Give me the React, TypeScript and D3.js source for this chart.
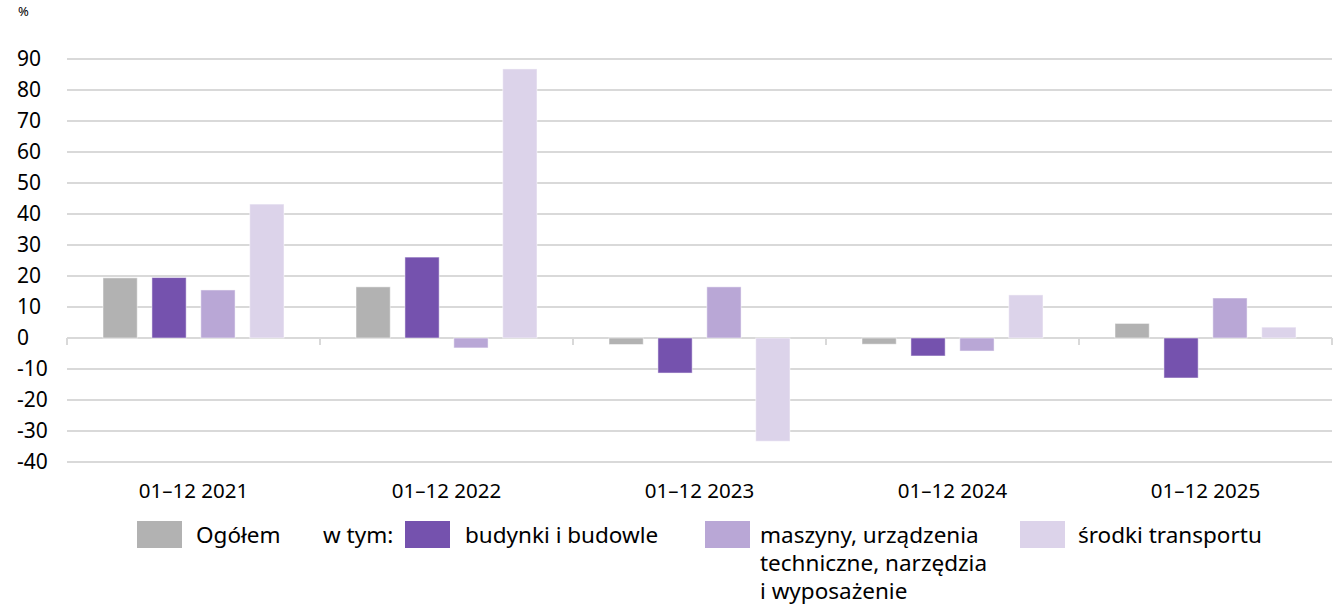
import React from 'react';
import * as d3 from 'd3';

const categories = ['01–12 2021', '01–12 2022', '01–12 2023', '01–12 2024', '01–12 2025'];
const seriesNames = ['Ogółem', 'budynki i budowle', 'maszyny, urządzenia techniczne, narzędzia i wyposażenie', 'środki transportu'];
const ogolem = [19.4, 16.5, -2.1, -2.0, 4.7];
const budynki = [19.5, 26.1, -11.3, -5.8, -12.9];
const maszyny = [15.5, -3.2, 16.5, -4.2, 12.9];
const srodki = [43.2, 86.8, -33.3, 13.9, 3.5];
const yTicks = [90, 80, 70, 60, 50, 40, 30, 20, 10, 0, -10, -20, -30, -40];
const colors = ['#b2b2b2', '#7552ae', '#b9a7d6', '#dcd3ea'];

const W = 1333;
const H = 605;
const FONT = "'Noto Sans', 'Open Sans', sans-serif";

const App: React.FC = () => {
  const series = [ogolem, budynki, maszyny, srodki];
  const x = d3.scaleBand<string>().domain(categories).range([67, 1332]);
  const inner = d3.scaleBand<number>().domain([0, 1, 2, 3]).range([36, 217]).paddingInner(0.3);
  const y = d3.scaleLinear().domain([-40, 90]).range([462, 59]);
  const y0 = y(0);

  return (
    <svg width={W} height={H} style={{ position: 'absolute', left: 0, top: 0, fontFamily: FONT }}>
      <text x={18} y={16} fontSize={13} fill="#000">%</text>
      {yTicks.map(t => (
        <g key={t}>
          <line x1={67} x2={1332} y1={y(t)} y2={y(t)} stroke="#d9d9d9" strokeWidth={2} />
          <text x={17} y={y(t)} dy="0.35em" fontSize={21} fill="#000">{t}</text>
        </g>
      ))}
      {categories.map(c => (
        <line key={'t' + c} x1={(x(c) as number) + x.bandwidth()} x2={(x(c) as number) + x.bandwidth()}
          y1={y0} y2={y0 + 7} stroke="#d9d9d9" strokeWidth={2} />
      ))}
      <line x1={67} x2={67} y1={y0} y2={y0 + 7} stroke="#d9d9d9" strokeWidth={2} />
      {series.map((vals, si) => vals.map((v, ci) => {
        const bx = (x(categories[ci]) as number) + (inner(si) as number);
        const top = Math.min(y(v), y0);
        const h = Math.abs(y(v) - y0);
        return <rect key={si + '-' + ci} x={bx} y={top} width={inner.bandwidth()} height={h}
          fill={colors[si]} stroke="#ffffff" strokeOpacity={0.5} strokeWidth={1} />;
      }))}
      {categories.map(c => (
        <text key={c} x={(x(c) as number) + x.bandwidth() / 2} y={491} dy="0.35em" textAnchor="middle" fontSize={20.5} fill="#000">{c}</text>
      ))}
      {/* legend */}
      <g fontSize={22.5} fill="#000">
        <rect x={137} y={521} width={45} height={27} fill={colors[0]} />
        <text x={196} y={543}>{seriesNames[0]}</text>
        <text x={323} y={543}>w tym:</text>
        <rect x={405} y={521} width={45} height={27} fill={colors[1]} />
        <text x={465} y={543}>{seriesNames[1]}</text>
        <rect x={705} y={521} width={45} height={27} fill={colors[2]} />
        <text x={760} y={543}>maszyny, urządzenia</text>
        <text x={760} y={571}>techniczne, narzędzia</text>
        <text x={760} y={599}>i wyposażenie</text>
        <rect x={1020} y={521} width={45} height={27} fill={colors[3]} />
        <text x={1078} y={543}>{seriesNames[3]}</text>
      </g>
    </svg>
  );
};

export default App;
